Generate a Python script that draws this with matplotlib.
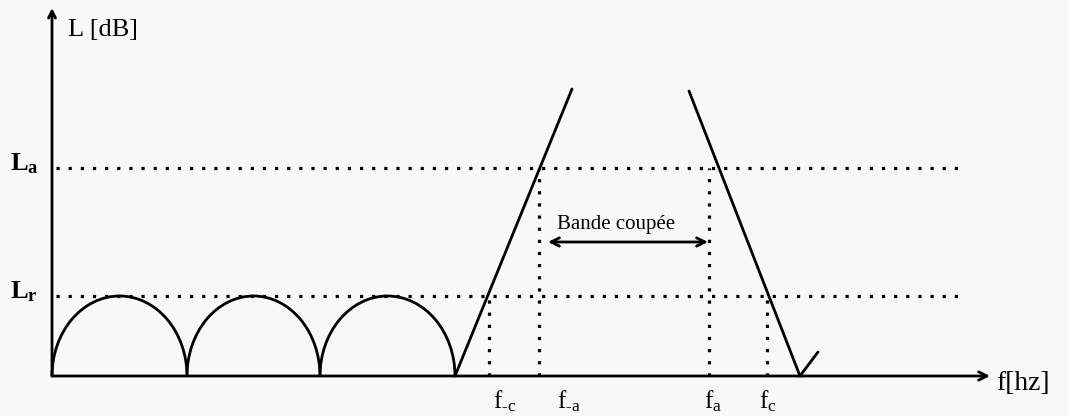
import numpy as np
import matplotlib.pyplot as plt
from matplotlib.patches import Arc

plt.rcParams['font.family'] = ['Liberation Serif', 'DejaVu Serif']
plt.rcParams['mathtext.fontset'] = 'custom'
plt.rcParams['mathtext.rm'] = 'Liberation Serif'
plt.rcParams['mathtext.it'] = 'Liberation Serif'
plt.rcParams['mathtext.bf'] = 'Liberation Serif:bold'

# schematic levels (arbitrary units, origin at the axes corner)
L_r = 80
L_a = 208

# side lobes below the rejection level
lobe_edges = [0, 135, 268, 403]

# flanks of the stop band: (f, L) end points
left_flank_f = [403, 520]
left_flank_L = [0, 287]
right_flank_f = [637, 748]
right_flank_L = [285, 0]
tail_f = [748, 766]
tail_L = [0, 24]

# marked frequencies and the level each one is read at
f_marks = [437, 487, 657, 715]
f_levels = [L_r, L_a, L_a, L_r]
f_names = ['$\\mathrm{f}_{\\mathrm{\u2010c}}$', '$\\mathrm{f}_{\\mathrm{\u2010a}}$',
           r'$\mathrm{f}_{\mathrm{a}}$', r'$\mathrm{f}_{\mathrm{c}}$']
f_name_shift = [16, 30, 4, 1]

band_f = [496, 656]
band_L = 134

f_end = 938
L_end = 368
level_line_end = 913

fig = plt.figure(figsize=(10.68, 4.16), dpi=100)
fig.patch.set_facecolor('#f8f8f6')
ax = fig.add_axes([0, 0, 1, 1])
ax.set_xlim(-52, 1016)
ax.set_ylim(-40, 376)
ax.axis('off')

lw = 2.0
dots = dict(color='black', lw=2.3, linestyle=(0, (1, 2.8)))

# axes with open arrow heads
ax.annotate('', xy=(f_end, 0), xytext=(0, 0),
            arrowprops=dict(arrowstyle='->,head_length=0.6,head_width=0.3',
                            lw=lw, color='black', shrinkA=0, shrinkB=0))
ax.annotate('', xy=(0, L_end), xytext=(0, 0),
            arrowprops=dict(arrowstyle='->,head_length=0.5,head_width=0.25',
                            lw=lw, color='black', shrinkA=0, shrinkB=0))
ax.text(16, 346, 'L [dB]', fontsize=19, va='center', ha='left')
ax.text(944, -8, 'f[hz]', fontsize=20, va='center', ha='left')

# level reference lines
for lev, name in [(L_a, r'$\mathbf{L}_{\mathbf{a}}$'), (L_r, r'$\mathbf{L}_{\mathbf{r}}$')]:
    ax.plot([4, level_line_end], [lev, lev], **dots)
    ax.text(-42, lev + 4, name, fontsize=19, va='center', ha='left')

# side lobes
for a, b in zip(lobe_edges[:-1], lobe_edges[1:]):
    ax.add_patch(Arc(((a + b) / 2, 0), b - a, 2 * L_r, theta1=0, theta2=180,
                     color='black', lw=lw))

# stop band flanks
ax.plot(left_flank_f, left_flank_L, color='black', lw=lw, solid_capstyle='round')
ax.plot(right_flank_f, right_flank_L, color='black', lw=lw, solid_capstyle='round')
ax.plot(tail_f, tail_L, color='black', lw=lw, solid_capstyle='round')

# frequency markers
for f, lev, name, dx in zip(f_marks, f_levels, f_names, f_name_shift):
    ax.plot([f, f], [0, lev], **dots)
    ax.text(f + dx, -38, name, fontsize=18, ha='center', va='bottom')

# stop band width
ax.annotate('', xy=(band_f[1], band_L), xytext=(band_f[0], band_L),
            arrowprops=dict(arrowstyle='<->,head_length=0.6,head_width=0.3',
                            lw=lw, color='black', shrinkA=0, shrinkB=0))
ax.text(sum(band_f) / 2 - 12, band_L + 17, 'Bande coupée', fontsize=15,
        ha='center', va='center')

fig.savefig('out.png', dpi=100, facecolor=fig.get_facecolor())
